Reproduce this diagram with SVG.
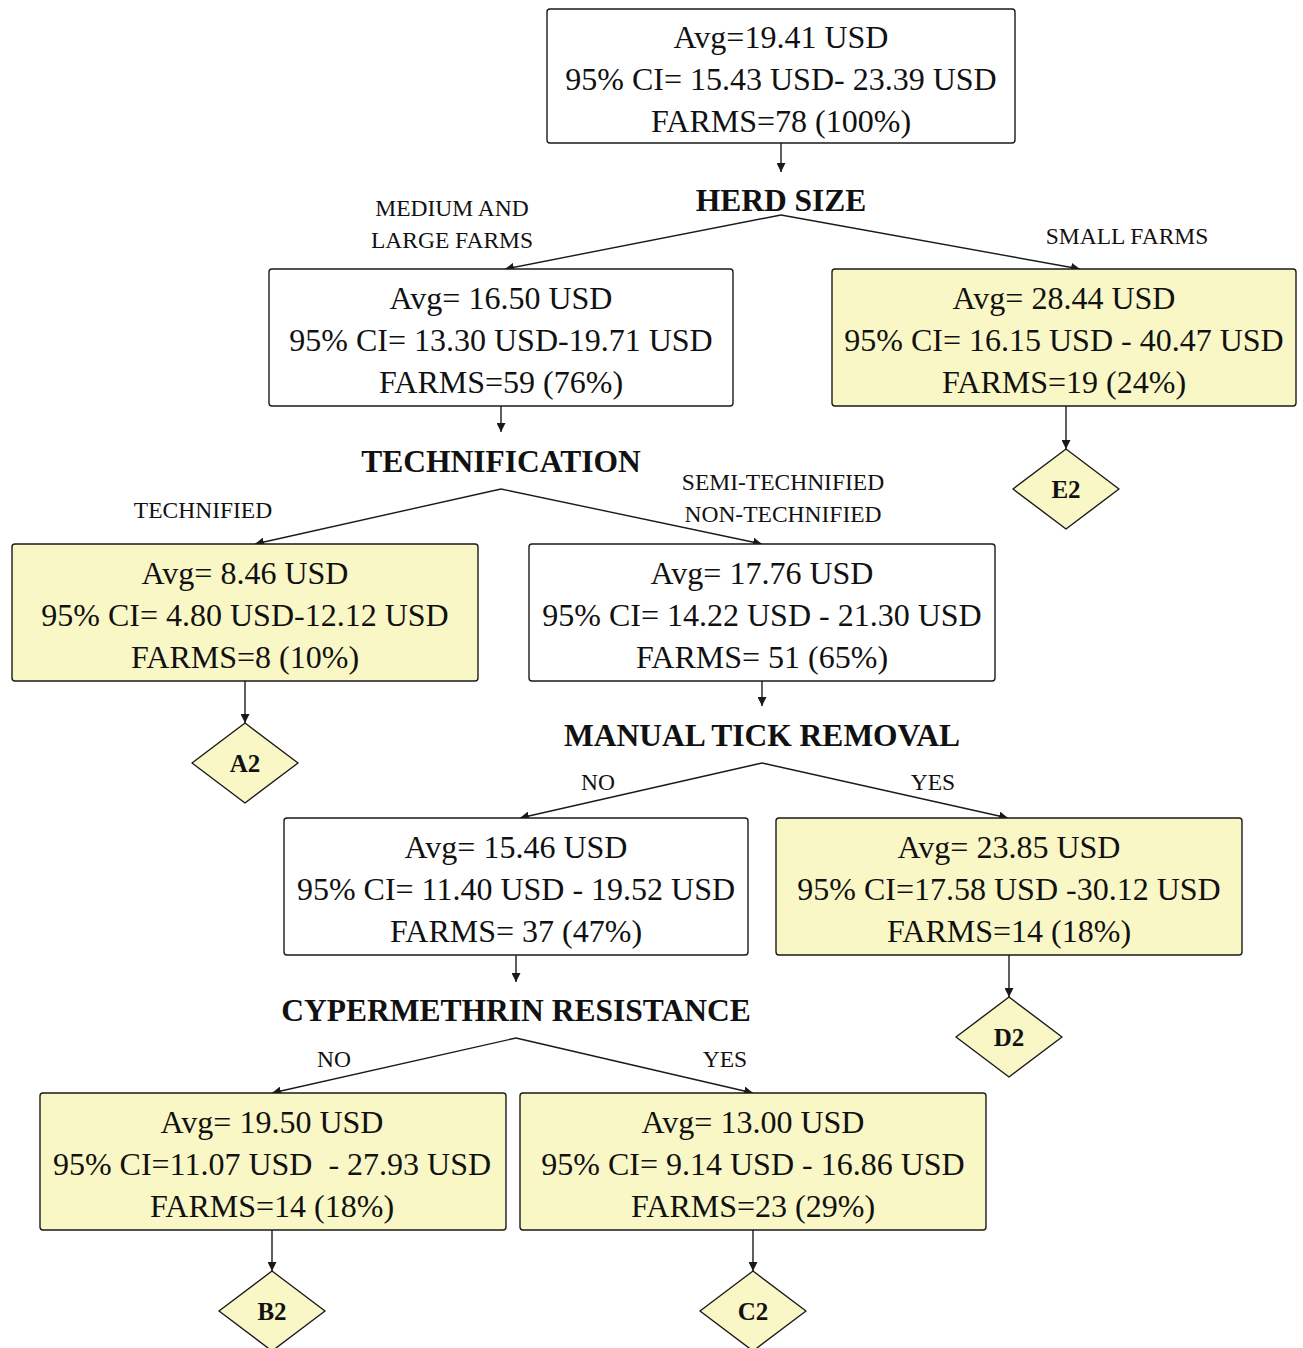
<svg xmlns="http://www.w3.org/2000/svg" width="1303" height="1348" viewBox="0 0 1303 1348">
  <style>
    .box { stroke: #1a1a1a; stroke-width: 1.4; }
    .plain { fill: #ffffff; }
    .leaf { fill: #faf7c6; }
    .dia { fill: #faf7c6; stroke: #1a1a1a; stroke-width: 1.4; stroke-linejoin: round; }
    .val { font-family: "Liberation Serif", serif; font-size: 32px; fill: #111; text-anchor: middle; white-space: pre; }
    .split { font-family: "Liberation Serif", serif; font-size: 31.5px; font-weight: bold; fill: #111; text-anchor: middle; }
    .lbl { font-family: "Liberation Serif", serif; font-size: 23.5px; fill: #111; text-anchor: middle; }
    .dlbl { font-family: "Liberation Serif", serif; font-size: 25px; font-weight: bold; fill: #111; text-anchor: middle; }
    .edge { fill: none; stroke: #1a1a1a; stroke-width: 1.4; }
  </style>
  <defs>
    <marker id="arrow" viewBox="0 0 10 10" refX="10" refY="5" markerWidth="9" markerHeight="9" markerUnits="userSpaceOnUse" orient="auto">
      <path d="M0,0 L10,5 L0,10 z" fill="#1a1a1a"/>
    </marker>
  </defs>
  <rect width="1303" height="1348" fill="#ffffff"/>

  <!-- connectors -->
  <g id="connectors">
    <line class="edge" x1="781" y1="143" x2="781" y2="172" marker-end="url(#arrow)"/>
    <line class="edge" x1="781" y1="215" x2="505" y2="269" marker-end="url(#arrow)"/>
    <line class="edge" x1="781" y1="215" x2="1080" y2="269" marker-end="url(#arrow)"/>

    <line class="edge" x1="501" y1="406" x2="501" y2="432" marker-end="url(#arrow)"/>
    <line class="edge" x1="501" y1="489" x2="255" y2="544" marker-end="url(#arrow)"/>
    <line class="edge" x1="501" y1="489" x2="762" y2="544" marker-end="url(#arrow)"/>

    <line class="edge" x1="1066" y1="406" x2="1066" y2="449" marker-end="url(#arrow)"/>

    <line class="edge" x1="245" y1="681" x2="245" y2="723" marker-end="url(#arrow)"/>

    <line class="edge" x1="762" y1="681" x2="762" y2="706" marker-end="url(#arrow)"/>
    <line class="edge" x1="762" y1="763" x2="520" y2="818" marker-end="url(#arrow)"/>
    <line class="edge" x1="762" y1="763" x2="1008" y2="818" marker-end="url(#arrow)"/>

    <line class="edge" x1="1009" y1="955" x2="1009" y2="997" marker-end="url(#arrow)"/>

    <line class="edge" x1="516" y1="955" x2="516" y2="982" marker-end="url(#arrow)"/>
    <line class="edge" x1="516" y1="1038" x2="272" y2="1093" marker-end="url(#arrow)"/>
    <line class="edge" x1="516" y1="1038" x2="753" y2="1093" marker-end="url(#arrow)"/>

    <line class="edge" x1="272" y1="1230" x2="272" y2="1271" marker-end="url(#arrow)"/>
    <line class="edge" x1="753" y1="1230" x2="753" y2="1271" marker-end="url(#arrow)"/>
  </g>

  <!-- split variables and branch labels -->
  <g id="splits">
    <text class="split" x="781" y="211">HERD SIZE</text>
    <text class="split" x="501" y="472">TECHNIFICATION</text>
    <text class="split" x="762" y="746">MANUAL TICK REMOVAL</text>
    <text class="split" x="516" y="1021">CYPERMETHRIN RESISTANCE</text>

    <text class="lbl" x="452" y="216">MEDIUM AND</text>
    <text class="lbl" x="452" y="248">LARGE FARMS</text>
    <text class="lbl" x="1127" y="244">SMALL FARMS</text>
    <text class="lbl" x="203" y="518">TECHNIFIED</text>
    <text class="lbl" x="783" y="490">SEMI-TECHNIFIED</text>
    <text class="lbl" x="783" y="522">NON-TECHNIFIED</text>
    <text class="lbl" x="598" y="790">NO</text>
    <text class="lbl" x="933" y="790">YES</text>
    <text class="lbl" x="334" y="1067">NO</text>
    <text class="lbl" x="725" y="1067">YES</text>
  </g>

  <!-- root -->
  <g id="node-root">
    <rect class="box plain" x="547" y="9" width="468" height="134" rx="3"/>
    <text class="val" x="781" y="48">Avg=19.41 USD</text>
    <text class="val" x="781" y="90">95% CI= 15.43 USD- 23.39 USD</text>
    <text class="val" x="781" y="132">FARMS=78 (100%)</text>
  </g>

  <g id="node-medium-large">
    <rect class="box plain" x="269" y="269" width="464" height="137" rx="3"/>
    <text class="val" x="501" y="309">Avg= 16.50 USD</text>
    <text class="val" x="501" y="351">95% CI= 13.30 USD-19.71 USD</text>
    <text class="val" x="501" y="393">FARMS=59 (76%)</text>
  </g>

  <g id="node-small">
    <rect class="box leaf" x="832" y="269" width="464" height="137" rx="3"/>
    <text class="val" x="1064" y="309">Avg= 28.44 USD</text>
    <text class="val" x="1064" y="351">95% CI= 16.15 USD - 40.47 USD</text>
    <text class="val" x="1064" y="393">FARMS=19 (24%)</text>
  </g>

  <g id="node-e2">
    <polygon class="dia" points="1066,449 1119,489 1066,529 1013,489"/>
    <text class="dlbl" x="1066" y="498">E2</text>
  </g>

  <g id="node-technified">
    <rect class="box leaf" x="12" y="544" width="466" height="137" rx="3"/>
    <text class="val" x="245" y="584">Avg= 8.46 USD</text>
    <text class="val" x="245" y="626">95% CI= 4.80 USD-12.12 USD</text>
    <text class="val" x="245" y="668">FARMS=8 (10%)</text>
  </g>

  <g id="node-a2">
    <polygon class="dia" points="245,723 298,763 245,803 192,763"/>
    <text class="dlbl" x="245" y="772">A2</text>
  </g>

  <g id="node-semi-non">
    <rect class="box plain" x="529" y="544" width="466" height="137" rx="3"/>
    <text class="val" x="762" y="584">Avg= 17.76 USD</text>
    <text class="val" x="762" y="626">95% CI= 14.22 USD - 21.30 USD</text>
    <text class="val" x="762" y="668">FARMS= 51 (65%)</text>
  </g>

  <g id="node-manual-no">
    <rect class="box plain" x="284" y="818" width="464" height="137" rx="3"/>
    <text class="val" x="516" y="858">Avg= 15.46 USD</text>
    <text class="val" x="516" y="900">95% CI= 11.40 USD - 19.52 USD</text>
    <text class="val" x="516" y="942">FARMS= 37 (47%)</text>
  </g>

  <g id="node-manual-yes">
    <rect class="box leaf" x="776" y="818" width="466" height="137" rx="3"/>
    <text class="val" x="1009" y="858">Avg= 23.85 USD</text>
    <text class="val" x="1009" y="900">95% CI=17.58 USD -30.12 USD</text>
    <text class="val" x="1009" y="942">FARMS=14 (18%)</text>
  </g>

  <g id="node-d2">
    <polygon class="dia" points="1009,997 1062,1037 1009,1077 956,1037"/>
    <text class="dlbl" x="1009" y="1046">D2</text>
  </g>

  <g id="node-cyp-no">
    <rect class="box leaf" x="40" y="1093" width="466" height="137" rx="3"/>
    <text class="val" x="272" y="1133">Avg= 19.50 USD</text>
    <text class="val" x="272" y="1175">95% CI=11.07 USD  - 27.93 USD</text>
    <text class="val" x="272" y="1217">FARMS=14 (18%)</text>
  </g>

  <g id="node-cyp-yes">
    <rect class="box leaf" x="520" y="1093" width="466" height="137" rx="3"/>
    <text class="val" x="753" y="1133">Avg= 13.00 USD</text>
    <text class="val" x="753" y="1175">95% CI= 9.14 USD - 16.86 USD</text>
    <text class="val" x="753" y="1217">FARMS=23 (29%)</text>
  </g>

  <g id="node-b2">
    <polygon class="dia" points="272,1271 325,1311 272,1351 219,1311"/>
    <text class="dlbl" x="272" y="1320">B2</text>
  </g>

  <g id="node-c2">
    <polygon class="dia" points="753,1271 806,1311 753,1351 700,1311"/>
    <text class="dlbl" x="753" y="1320">C2</text>
  </g>
</svg>
